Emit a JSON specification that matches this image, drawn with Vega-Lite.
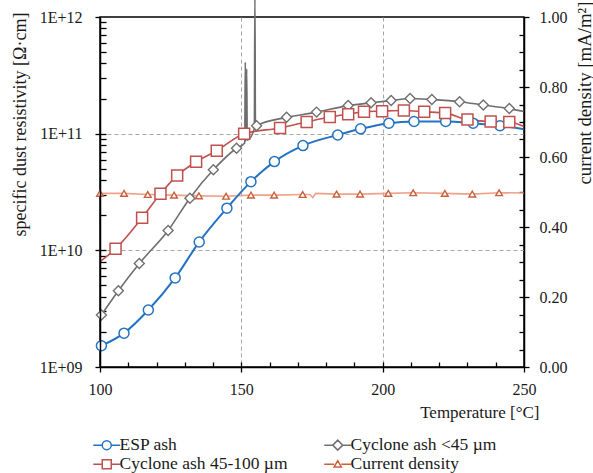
{
  "$schema": "https://vega.github.io/schema/vega-lite/v6.json",
  "width": 424,
  "height": 350,
  "autosize": "none",
  "padding": {"left": 100, "top": 17, "right": 69, "bottom": 106},
  "background": "white",
  "config": {
    "view": {"stroke": "#000000", "strokeWidth": 1.5},
    "font": "Liberation Serif",
    "axis": {
      "labelFont": "Liberation Serif", "titleFont": "Liberation Serif",
      "labelFontSize": 16, "titleFontSize": 17,
      "labelColor": "#1a1a1a", "titleColor": "#1a1a1a", "titleFontWeight": "normal",
      "domainColor": "#000000", "tickColor": "#000000", "domainWidth": 1.5, "tickWidth": 1.3,
      "grid": false, "labelFlush": false, "labelOverlap": false
    },
    "legend": {
      "labelFont": "Liberation Serif", "labelFontSize": 17.5, "labelColor": "#1a1a1a", "labelLimit": 400
    }
  },
  "datasets": {
    "markers": [
      {"series": "ESP ash", "T": 100.5, "R": 1.52e9},
      {"series": "ESP ash", "T": 108.5, "R": 1.95e9},
      {"series": "ESP ash", "T": 117.1, "R": 3.08e9},
      {"series": "ESP ash", "T": 126.6, "R": 5.8e9},
      {"series": "ESP ash", "T": 135.1, "R": 1.18e10},
      {"series": "ESP ash", "T": 144.9, "R": 2.3e10},
      {"series": "ESP ash", "T": 153.4, "R": 3.88e10},
      {"series": "ESP ash", "T": 161.7, "R": 5.76e10},
      {"series": "ESP ash", "T": 171.8, "R": 7.9e10},
      {"series": "ESP ash", "T": 184.1, "R": 9.75e10},
      {"series": "ESP ash", "T": 192.2, "R": 1.1e11},
      {"series": "ESP ash", "T": 202.2, "R": 1.23e11},
      {"series": "ESP ash", "T": 211.1, "R": 1.27e11},
      {"series": "ESP ash", "T": 222.3, "R": 1.27e11},
      {"series": "ESP ash", "T": 232, "R": 1.23e11},
      {"series": "ESP ash", "T": 241.5, "R": 1.17e11},
      {"series": "Cyclone ash <45 µm", "T": 100.5, "R": 2.79e9},
      {"series": "Cyclone ash <45 µm", "T": 106.5, "R": 4.5e9},
      {"series": "Cyclone ash <45 µm", "T": 113.9, "R": 7.7e9},
      {"series": "Cyclone ash <45 µm", "T": 124.1, "R": 1.48e10},
      {"series": "Cyclone ash <45 µm", "T": 131.8, "R": 2.8e10},
      {"series": "Cyclone ash <45 µm", "T": 140.1, "R": 4.9e10},
      {"series": "Cyclone ash <45 µm", "T": 148.3, "R": 7.5e10},
      {"series": "Cyclone ash <45 µm", "T": 155.4, "R": 1.17e11},
      {"series": "Cyclone ash <45 µm", "T": 166, "R": 1.38e11},
      {"series": "Cyclone ash <45 µm", "T": 176.6, "R": 1.53e11},
      {"series": "Cyclone ash <45 µm", "T": 187.8, "R": 1.74e11},
      {"series": "Cyclone ash <45 µm", "T": 195.9, "R": 1.84e11},
      {"series": "Cyclone ash <45 µm", "T": 203, "R": 1.92e11},
      {"series": "Cyclone ash <45 µm", "T": 209.7, "R": 2.0e11},
      {"series": "Cyclone ash <45 µm", "T": 217.4, "R": 1.96e11},
      {"series": "Cyclone ash <45 µm", "T": 227.2, "R": 1.88e11},
      {"series": "Cyclone ash <45 µm", "T": 235.6, "R": 1.76e11},
      {"series": "Cyclone ash <45 µm", "T": 244.8, "R": 1.64e11},
      {"series": "Cyclone ash 45-100 µm", "T": 105.5, "R": 1.03e10},
      {"series": "Cyclone ash 45-100 µm", "T": 114.9, "R": 1.9e10},
      {"series": "Cyclone ash 45-100 µm", "T": 121.4, "R": 3.06e10},
      {"series": "Cyclone ash 45-100 µm", "T": 127.3, "R": 4.37e10},
      {"series": "Cyclone ash 45-100 µm", "T": 134, "R": 5.75e10},
      {"series": "Cyclone ash 45-100 µm", "T": 141.3, "R": 7.15e10},
      {"series": "Cyclone ash 45-100 µm", "T": 151, "R": 1.0e11},
      {"series": "Cyclone ash 45-100 µm", "T": 163.7, "R": 1.12e11},
      {"series": "Cyclone ash 45-100 µm", "T": 173.1, "R": 1.26e11},
      {"series": "Cyclone ash 45-100 µm", "T": 181.3, "R": 1.39e11},
      {"series": "Cyclone ash 45-100 µm", "T": 187.8, "R": 1.47e11},
      {"series": "Cyclone ash 45-100 µm", "T": 193.4, "R": 1.54e11},
      {"series": "Cyclone ash 45-100 µm", "T": 199.8, "R": 1.56e11},
      {"series": "Cyclone ash 45-100 µm", "T": 207.5, "R": 1.58e11},
      {"series": "Cyclone ash 45-100 µm", "T": 214.7, "R": 1.54e11},
      {"series": "Cyclone ash 45-100 µm", "T": 222.1, "R": 1.5e11},
      {"series": "Cyclone ash 45-100 µm", "T": 230, "R": 1.32e11},
      {"series": "Cyclone ash 45-100 µm", "T": 238.2, "R": 1.27e11},
      {"series": "Cyclone ash 45-100 µm", "T": 244.8, "R": 1.26e11}
    ],
    "curves": [
      {"series": "ESP ash", "T": 100.5, "R": 1.52e9},
      {"series": "ESP ash", "T": 108.5, "R": 1.95e9},
      {"series": "ESP ash", "T": 117.1, "R": 3.08e9},
      {"series": "ESP ash", "T": 126.6, "R": 5.8e9},
      {"series": "ESP ash", "T": 135.1, "R": 1.18e10},
      {"series": "ESP ash", "T": 144.9, "R": 2.3e10},
      {"series": "ESP ash", "T": 153.4, "R": 3.88e10},
      {"series": "ESP ash", "T": 161.7, "R": 5.76e10},
      {"series": "ESP ash", "T": 171.8, "R": 7.9e10},
      {"series": "ESP ash", "T": 184.1, "R": 9.75e10},
      {"series": "ESP ash", "T": 192.2, "R": 1.1e11},
      {"series": "ESP ash", "T": 202.2, "R": 1.23e11},
      {"series": "ESP ash", "T": 211.1, "R": 1.27e11},
      {"series": "ESP ash", "T": 222.3, "R": 1.27e11},
      {"series": "ESP ash", "T": 232, "R": 1.23e11},
      {"series": "ESP ash", "T": 241.5, "R": 1.17e11},
      {"series": "ESP ash", "T": 250, "R": 1.09e11},
      {"series": "Cyclone ash <45 µm", "T": 100.5, "R": 2.79e9},
      {"series": "Cyclone ash <45 µm", "T": 106.5, "R": 4.5e9},
      {"series": "Cyclone ash <45 µm", "T": 113.9, "R": 7.7e9},
      {"series": "Cyclone ash <45 µm", "T": 124.1, "R": 1.48e10},
      {"series": "Cyclone ash <45 µm", "T": 131.8, "R": 2.8e10},
      {"series": "Cyclone ash <45 µm", "T": 140.1, "R": 4.9e10},
      {"series": "Cyclone ash <45 µm", "T": 148.3, "R": 7.5e10},
      {"series": "Cyclone ash <45 µm", "T": 151.2, "R": 8.3e10},
      {"series": "Cyclone ash <45 µm", "T": 151.4, "R": 4.1e11},
      {"series": "Cyclone ash <45 µm", "T": 151.6, "R": 8.6e10},
      {"series": "Cyclone ash <45 µm", "T": 151.9, "R": 3.6e11},
      {"series": "Cyclone ash <45 µm", "T": 152.1, "R": 8.8e10},
      {"series": "Cyclone ash <45 µm", "T": 154.6, "R": 1.1e11},
      {"series": "Cyclone ash <45 µm", "T": 154.8, "R": 1.6e12},
      {"series": "Cyclone ash <45 µm", "T": 155.0, "R": 1.12e11},
      {"series": "Cyclone ash <45 µm", "T": 155.4, "R": 1.17e11},
      {"series": "Cyclone ash <45 µm", "T": 166, "R": 1.38e11},
      {"series": "Cyclone ash <45 µm", "T": 176.6, "R": 1.53e11},
      {"series": "Cyclone ash <45 µm", "T": 187.8, "R": 1.74e11},
      {"series": "Cyclone ash <45 µm", "T": 195.9, "R": 1.84e11},
      {"series": "Cyclone ash <45 µm", "T": 203, "R": 1.92e11},
      {"series": "Cyclone ash <45 µm", "T": 209.7, "R": 2.0e11},
      {"series": "Cyclone ash <45 µm", "T": 217.4, "R": 1.96e11},
      {"series": "Cyclone ash <45 µm", "T": 227.2, "R": 1.88e11},
      {"series": "Cyclone ash <45 µm", "T": 235.6, "R": 1.76e11},
      {"series": "Cyclone ash <45 µm", "T": 244.8, "R": 1.64e11},
      {"series": "Cyclone ash <45 µm", "T": 250, "R": 1.55e11},
      {"series": "Cyclone ash 45-100 µm", "T": 100, "R": 8.0e9},
      {"series": "Cyclone ash 45-100 µm", "T": 105.5, "R": 1.03e10},
      {"series": "Cyclone ash 45-100 µm", "T": 114.9, "R": 1.9e10},
      {"series": "Cyclone ash 45-100 µm", "T": 121.4, "R": 3.06e10},
      {"series": "Cyclone ash 45-100 µm", "T": 127.3, "R": 4.37e10},
      {"series": "Cyclone ash 45-100 µm", "T": 134, "R": 5.75e10},
      {"series": "Cyclone ash 45-100 µm", "T": 141.3, "R": 7.15e10},
      {"series": "Cyclone ash 45-100 µm", "T": 151, "R": 1.0e11},
      {"series": "Cyclone ash 45-100 µm", "T": 163.7, "R": 1.12e11},
      {"series": "Cyclone ash 45-100 µm", "T": 173.1, "R": 1.26e11},
      {"series": "Cyclone ash 45-100 µm", "T": 181.3, "R": 1.39e11},
      {"series": "Cyclone ash 45-100 µm", "T": 187.8, "R": 1.47e11},
      {"series": "Cyclone ash 45-100 µm", "T": 193.4, "R": 1.54e11},
      {"series": "Cyclone ash 45-100 µm", "T": 199.8, "R": 1.56e11},
      {"series": "Cyclone ash 45-100 µm", "T": 207.5, "R": 1.58e11},
      {"series": "Cyclone ash 45-100 µm", "T": 214.7, "R": 1.54e11},
      {"series": "Cyclone ash 45-100 µm", "T": 222.1, "R": 1.5e11},
      {"series": "Cyclone ash 45-100 µm", "T": 230, "R": 1.32e11},
      {"series": "Cyclone ash 45-100 µm", "T": 238.2, "R": 1.27e11},
      {"series": "Cyclone ash 45-100 µm", "T": 244.8, "R": 1.26e11},
      {"series": "Cyclone ash 45-100 µm", "T": 250, "R": 1.15e11}
    ],
    "cd": [
      {"series": "Current density", "T": 100, "J": 0.496},
      {"series": "Current density", "T": 108.5, "J": 0.496},
      {"series": "Current density", "T": 116.9, "J": 0.493},
      {"series": "Current density", "T": 126.2, "J": 0.491},
      {"series": "Current density", "T": 135, "J": 0.489},
      {"series": "Current density", "T": 144.6, "J": 0.488},
      {"series": "Current density", "T": 153.4, "J": 0.491},
      {"series": "Current density", "T": 161.6, "J": 0.491},
      {"series": "Current density", "T": 171.7, "J": 0.493},
      {"series": "Current density", "T": 183.7, "J": 0.494},
      {"series": "Current density", "T": 192, "J": 0.494},
      {"series": "Current density", "T": 202, "J": 0.496},
      {"series": "Current density", "T": 210.8, "J": 0.498},
      {"series": "Current density", "T": 222, "J": 0.496},
      {"series": "Current density", "T": 231.7, "J": 0.494},
      {"series": "Current density", "T": 241.2, "J": 0.498}
    ],
    "cdline": [
      {"T": 100, "J": 0.496},
      {"T": 108.5, "J": 0.496},
      {"T": 116.9, "J": 0.493},
      {"T": 126.2, "J": 0.491},
      {"T": 135, "J": 0.489},
      {"T": 144.6, "J": 0.488},
      {"T": 153.4, "J": 0.491},
      {"T": 161.6, "J": 0.491},
      {"T": 171.7, "J": 0.493},
      {"T": 174.3, "J": 0.493},
      {"T": 175.3, "J": 0.484},
      {"T": 176.3, "J": 0.496},
      {"T": 183.7, "J": 0.494},
      {"T": 192, "J": 0.494},
      {"T": 202, "J": 0.496},
      {"T": 210.8, "J": 0.498},
      {"T": 222, "J": 0.496},
      {"T": 231.7, "J": 0.494},
      {"T": 241.2, "J": 0.498},
      {"T": 250, "J": 0.497}
    ]
  },
  "resolve": {
    "scale": {"x": "independent", "y": "independent"},
    "axis": {"x": "independent", "y": "independent"}
  },
  "layer": [
    {
      "data": {"name": "cdline"},
      "mark": {"type": "line", "color": "#EFA28A", "strokeWidth": 1.6},
      "encoding": {
        "x": {"field": "T", "type": "quantitative", "scale": {"domain": [100, 250], "nice": false, "zero": false},
          "axis": {"orient": "bottom", "values": [150, 200], "grid": true, "gridDash": [4, 3], "gridColor": "#a6a6a6", "gridWidth": 1, "ticks": false, "labels": false, "domain": false, "title": null}},
        "y": {"field": "J", "type": "quantitative", "scale": {"domain": [0, 1], "nice": false, "zero": false},
          "axis": {"orient": "right", "values": [0, 0.2, 0.4, 0.6, 0.8, 1], "format": ".2f", "tickSize": 5, "labelPadding": 10,
            "title": "current density [mA/m²]", "titleFontSize": 18.8, "titleAngle": -90, "titleX": 60, "titleY": 75.5, "titleAlign": "center", "titleBaseline": "middle", "zindex": 1}}
      }
    },
    {
      "data": {"name": "curves"},
      "transform": [{"filter": "datum.series === 'ESP ash'"}],
      "mark": {"type": "line", "color": "#2473C2", "strokeWidth": 2, "interpolate": "monotone"},
      "encoding": {
        "x": {"field": "T", "type": "quantitative", "scale": {"domain": [100, 250], "nice": false, "zero": false},
          "axis": {"orient": "bottom", "values": [100, 150, 200, 250], "tickSize": 5, "labelPadding": 9,
            "title": "Temperature [°C]", "titleX": 439, "titleY": 45, "titleAlign": "right", "titleBaseline": "middle", "zindex": 1}},
        "y": {"field": "R", "type": "quantitative", "scale": {"type": "log", "domain": [1e9, 1e12], "nice": false},
          "axis": {"orient": "left", "values": [1e9, 1e10, 1e11, 1e12], "tickSize": 5, "labelPadding": 13,
            "labelExpr": "'1E+' + (round(log(datum.value)/LN10) < 10 ? '0' : '') + round(log(datum.value)/LN10)",
            "title": "specific dust resistivity [Ω·cm]", "titleFontSize": 18, "titleAngle": -90, "titleX": -80, "titleY": 107, "titleAlign": "center", "titleBaseline": "middle", "zindex": 1}}
      }
    },
    {
      "data": {"name": "curves"},
      "transform": [{"filter": "datum.series === 'Cyclone ash <45 µm'"}],
      "mark": {"type": "line", "color": "#6E6E6E", "strokeWidth": 1.6, "interpolate": "monotone"},
      "encoding": {
        "x": {"field": "T", "type": "quantitative", "scale": {"domain": [100, 250], "nice": false, "zero": false},
          "axis": {"orient": "bottom", "offset": -5, "values": [110, 120, 130, 140, 150, 160, 170, 180, 190, 200, 210, 220, 230, 240], "tickSize": 5, "labels": false, "domain": false, "title": null}},
        "y": {"field": "R", "type": "quantitative", "scale": {"type": "log", "domain": [1e9, 1e12], "nice": false},
          "axis": {"orient": "left", "offset": -6, "values": [2e9, 3e9, 4e9, 5e9, 6e9, 7e9, 8e9, 9e9, 1e10, 2e10, 3e10, 4e10, 5e10, 6e10, 7e10, 8e10, 9e10, 1e11, 2e11, 3e11, 4e11, 5e11, 6e11, 7e11, 8e11, 9e11], "tickSize": 6, "labels": false, "domain": false, "title": null}}
      }
    },
    {
      "data": {"name": "curves"},
      "transform": [{"filter": "datum.series === 'Cyclone ash 45-100 µm'"}],
      "mark": {"type": "line", "color": "#C0504D", "strokeWidth": 1.6, "interpolate": "monotone"},
      "encoding": {
        "x": {"field": "T", "type": "quantitative", "scale": {"domain": [100, 250], "nice": false, "zero": false}, "axis": null},
        "y": {"field": "R", "type": "quantitative", "scale": {"type": "log", "domain": [1e9, 1e12], "nice": false},
          "axis": {"orient": "left", "values": [1e10, 1e11], "grid": true, "gridDash": [4, 3], "gridColor": "#a6a6a6", "gridWidth": 1, "ticks": false, "labels": false, "domain": false, "title": null}}
      }
    },
    {
      "data": {"name": "markers"},
      "transform": [{"filter": "false"}],
      "mark": {"type": "point", "filled": false, "opacity": 1, "strokeWidth": 1.5},
      "encoding": {
        "x": {"field": "T", "type": "quantitative", "scale": {"domain": [100, 250], "nice": false, "zero": false}, "axis": null},
        "y": {"field": "R", "type": "quantitative", "scale": {"type": "log", "domain": [1e9, 1e12], "nice": false}, "axis": null},
        "color": {"field": "series", "type": "nominal",
          "scale": {"domain": ["ESP ash", "Cyclone ash 45-100 µm", "Cyclone ash <45 µm", "Current density"], "range": ["#2473C2", "#C0504D", "#707070", "#C8603C"]},
          "legend": {"title": null, "orient": "none", "legendX": -2, "legendY": 419, "columns": 2, "columnPadding": 33, "rowPadding": 0.5, "symbolSize": 81, "labelOffset": 4, "labelLimit": 400, "symbolStrokeWidth": 1.5}},
        "shape": {"field": "series", "type": "nominal",
          "scale": {"domain": ["ESP ash", "Cyclone ash 45-100 µm", "Cyclone ash <45 µm", "Current density"],
            "range": ["M-3,0L-1,0M1,0L3,0M-1,0A1,1,0,1,0,1,0A1,1,0,1,0,-1,0", "M-3,0L-1,0M1,0L3,0M-1,-1L1,-1L1,1L-1,1Z", "M-3,0L-1.1,0M1.1,0L3,0M-1.1,0L0,-1.1L1.1,0L0,1.1Z", "M-3,0L-0.8,0M0.8,0L3,0M-0.8,0.6L0,-0.8L0.8,0.6Z"]},
          "legend": {"title": null, "orient": "none", "legendX": -2, "legendY": 419, "columns": 2, "columnPadding": 33, "rowPadding": 0.5, "symbolSize": 81, "labelOffset": 4, "labelLimit": 400, "symbolStrokeWidth": 1.5}}
      }
    },
    {
      "data": {"name": "markers"},
      "transform": [{"filter": "datum.series === 'ESP ash'"}],
      "mark": {"type": "point", "shape": "circle", "filled": false, "fill": "#ffffff", "fillOpacity": 1, "opacity": 1, "size": 100, "strokeWidth": 1.5},
      "encoding": {
        "x": {"field": "T", "type": "quantitative", "scale": {"domain": [100, 250], "nice": false, "zero": false}, "axis": null},
        "y": {"field": "R", "type": "quantitative", "scale": {"type": "log", "domain": [1e9, 1e12], "nice": false}, "axis": null},
        "color": {"field": "series", "type": "nominal",
          "scale": {"domain": ["ESP ash", "Cyclone ash 45-100 µm", "Cyclone ash <45 µm", "Current density"], "range": ["#2473C2", "#C0504D", "#707070", "#C8603C"]}}
      }
    },
    {
      "data": {"name": "markers"},
      "transform": [{"filter": "datum.series === 'Cyclone ash <45 µm'"}],
      "mark": {"type": "point", "shape": "diamond", "filled": false, "fill": "#ffffff", "fillOpacity": 1, "opacity": 1, "size": 100, "strokeWidth": 1.4},
      "encoding": {
        "x": {"field": "T", "type": "quantitative", "scale": {"domain": [100, 250], "nice": false, "zero": false}, "axis": null},
        "y": {"field": "R", "type": "quantitative", "scale": {"type": "log", "domain": [1e9, 1e12], "nice": false}, "axis": null},
        "color": {"field": "series", "type": "nominal",
          "scale": {"domain": ["ESP ash", "Cyclone ash 45-100 µm", "Cyclone ash <45 µm", "Current density"], "range": ["#2473C2", "#C0504D", "#707070", "#C8603C"]}}
      }
    },
    {
      "data": {"name": "markers"},
      "transform": [{"filter": "datum.series === 'Cyclone ash 45-100 µm'"}],
      "mark": {"type": "point", "shape": "square", "filled": false, "fill": "#ffffff", "fillOpacity": 1, "opacity": 1, "size": 121, "strokeWidth": 1.5},
      "encoding": {
        "x": {"field": "T", "type": "quantitative", "scale": {"domain": [100, 250], "nice": false, "zero": false}, "axis": null},
        "y": {"field": "R", "type": "quantitative", "scale": {"type": "log", "domain": [1e9, 1e12], "nice": false}, "axis": null},
        "color": {"field": "series", "type": "nominal",
          "scale": {"domain": ["ESP ash", "Cyclone ash 45-100 µm", "Cyclone ash <45 µm", "Current density"], "range": ["#2473C2", "#C0504D", "#707070", "#C8603C"]}}
      }
    },
    {
      "data": {"name": "cd"},
      "mark": {"type": "point", "shape": "triangle-up", "filled": false, "fill": "#ffffff", "fillOpacity": 1, "opacity": 1, "size": 45, "strokeWidth": 1.4},
      "encoding": {
        "x": {"field": "T", "type": "quantitative", "scale": {"domain": [100, 250], "nice": false, "zero": false}, "axis": null},
        "y": {"field": "J", "type": "quantitative", "scale": {"domain": [0, 1], "nice": false, "zero": false},
          "axis": {"orient": "right", "offset": -5, "values": [0.05, 0.1, 0.15, 0.25, 0.3, 0.35, 0.45, 0.5, 0.55, 0.65, 0.7, 0.75, 0.85, 0.9, 0.95, 0.2, 0.4, 0.6, 0.8], "tickSize": 5, "labels": false, "domain": false, "title": null}},
        "color": {"field": "series", "type": "nominal",
          "scale": {"domain": ["ESP ash", "Cyclone ash 45-100 µm", "Cyclone ash <45 µm", "Current density"], "range": ["#2473C2", "#C0504D", "#707070", "#C8603C"]}}
      }
    }
  ]
}
